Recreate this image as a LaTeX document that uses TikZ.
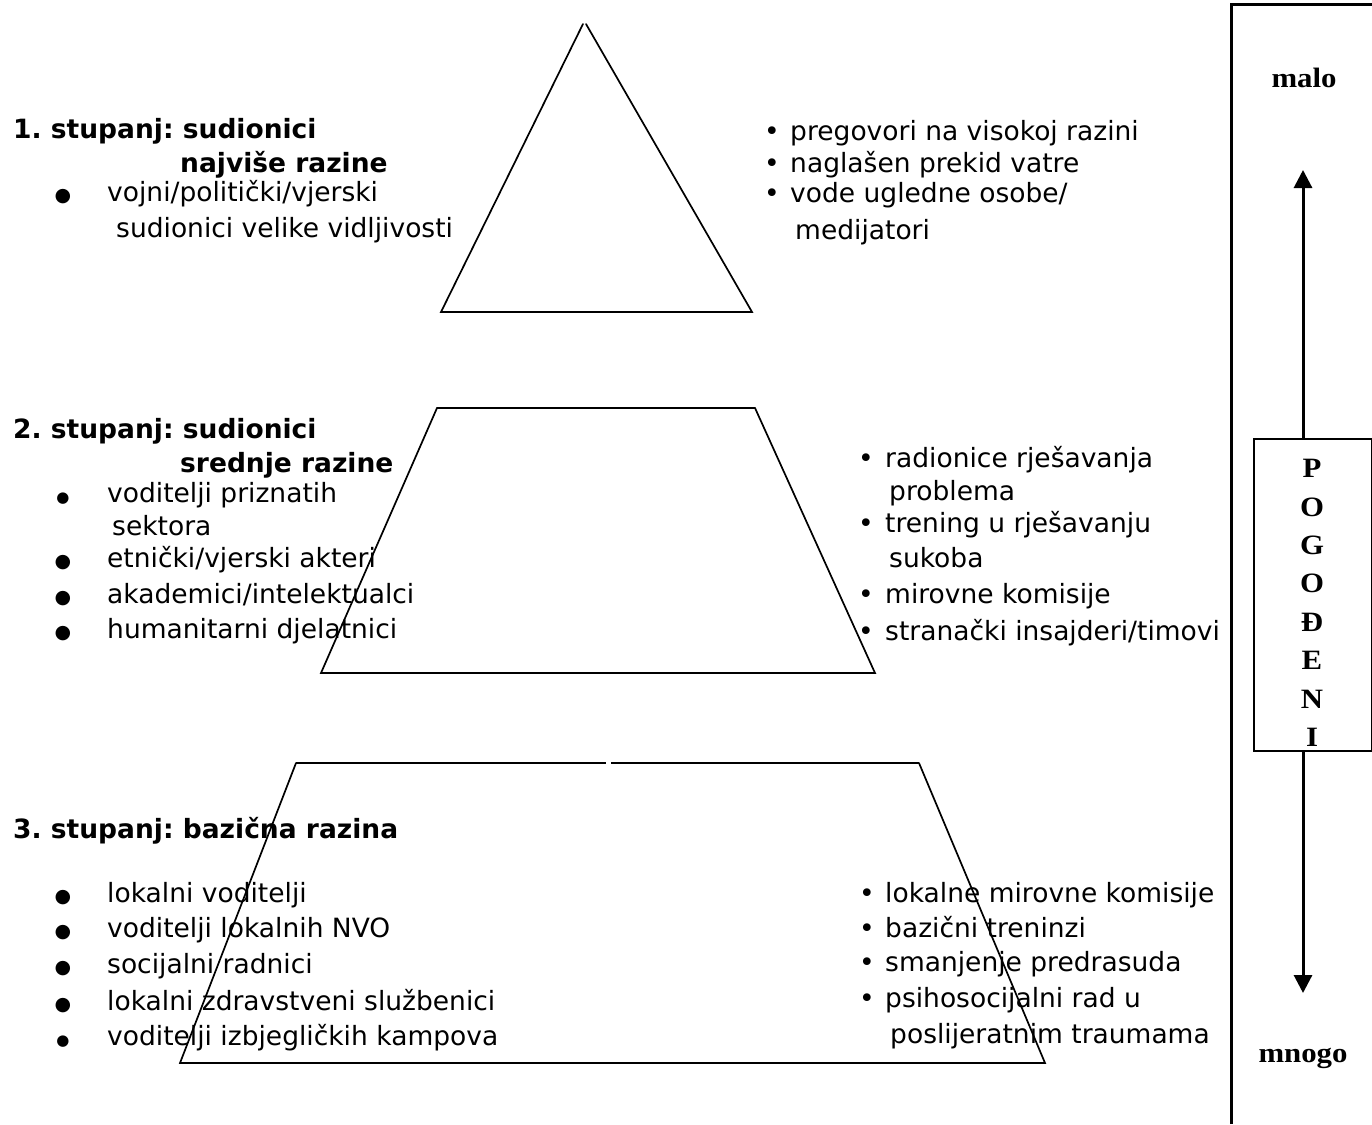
\documentclass[tikz,border=0pt]{standalone}
\usepackage{fontspec}
\setmainfont{DejaVu Sans}
\newfontfamily\serifb[FakeStretch=1.1]{Liberation Serif}
\usetikzlibrary{arrows.meta}
\tikzset{
  shapeline/.style={line width=1.7pt, line cap=round},
  txt/.style={anchor=base west, inner sep=0pt, font=\fontsize{26.5}{30}\selectfont},
  hd/.style={anchor=base west, inner sep=0pt, font=\fontsize{26.5}{30}\selectfont\bfseries},
  bigbul/.style={anchor=base, inner sep=0pt, font=\fontsize{19}{22}\selectfont},
  lowbul/.style={anchor=base, inner sep=0pt, font=\fontsize{15}{18}\selectfont},
  smbul/.style={anchor=base, inner sep=0pt, font=\fontsize{26.5}{30}\selectfont},
  sidelbl/.style={inner sep=0pt, font=\fontsize{28}{30}\selectfont\serifb\bfseries},
  frameline/.style={line width=3pt},
  arr/.style={line width=3pt, -{Triangle[width=18pt,length=18pt]}},
}
\begin{document}
\frenchspacing
\begin{tikzpicture}[x=1pt,y=-1pt]
\useasboundingbox (0,0) rectangle (1372,1124);
\fill[white] (0,0) rectangle (1372,1124);

% ---- pyramid shapes
\coordinate (t1a) at (583,24);
\coordinate (t1b) at (586,24);
\coordinate (t1l) at (441,312);
\coordinate (t1r) at (752,312);
\draw[shapeline] (t1a) -- (t1l) -- (t1r) -- (t1b);

\coordinate (t2tl) at (437,408);
\coordinate (t2tr) at (755,408);
\coordinate (t2bl) at (321,673);
\coordinate (t2br) at (875,673);
\draw[shapeline] (t2tl) -- (t2tr);
\draw[shapeline] (t2tl) -- (t2bl) -- (t2br) -- (t2tr);

\coordinate (t3tl) at (296,763);
\coordinate (t3gl) at (606,763);
\coordinate (t3gr) at (611,763);
\coordinate (t3tr) at (919,763);
\coordinate (t3bl) at (180,1063);
\coordinate (t3br) at (1045,1063);
\draw[shapeline, line cap=butt] (t3tl) -- (t3gl);
\draw[shapeline, line cap=butt] (t3gr) -- (t3tr);
\draw[shapeline] (t3tl) -- (t3bl) -- (t3br) -- (t3tr);

% ---- tier 1 left
\node[hd] (h1a) at (13,138) {1. stupanj: sudionici};
\node[hd] (h1b) at (180,172) {najviše razine};
\node[bigbul] (b1a) at (63,201) {●};
\node[txt] (l1a) at (107,201) {vojni/politički/vjerski};
\node[txt] (l1b) at (116,237) {sudionici velike vidljivosti};
% ---- tier 1 right
\node[smbul] (rb1a) at (772,140) {•};
\node[txt] (r1a) at (790,140) {pregovori na visokoj razini};
\node[smbul] (rb1b) at (772,172) {•};
\node[txt] (r1b) at (790,172) {naglašen prekid vatre};
\node[smbul] (rb1c) at (772,202) {•};
\node[txt] (r1c) at (790,202) {vode ugledne osobe/};
\node[txt] (r1d) at (795,239) {medijatori};

% ---- tier 2 left
\node[hd] (h2a) at (13,438) {2. stupanj: sudionici};
\node[hd] (h2b) at (180,472) {srednje razine};
\node[lowbul] (b2a) at (63,502) {●};
\node[txt] (l2a) at (107,502) {voditelji priznatih};
\node[txt] (l2b) at (112,535) {sektora};
\node[bigbul] (b2c) at (63,567) {●};
\node[txt] (l2c) at (107,567) {etnički/vjerski akteri};
\node[bigbul] (b2d) at (63,603) {●};
\node[txt] (l2d) at (107,603) {akademici/intelektualci};
\node[bigbul] (b2e) at (63,638) {●};
\node[txt] (l2e) at (107,638) {humanitarni djelatnici};
% ---- tier 2 right
\node[smbul] (rb2a) at (866,467) {•};
\node[txt] (r2a) at (885,467) {radionice rješavanja};
\node[txt] (r2b) at (889,500) {problema};
\node[smbul] (rb2c) at (866,532) {•};
\node[txt] (r2c) at (885,532) {trening u rješavanju};
\node[txt] (r2d) at (889,567) {sukoba};
\node[smbul] (rb2e) at (866,603) {•};
\node[txt] (r2e) at (885,603) {mirovne komisije};
\node[smbul] (rb2f) at (866,640) {•};
\node[txt] (r2f) at (885,640) {stranački insajderi/timovi};

% ---- tier 3 left
\node[hd] (h3a) at (13,838) {3. stupanj: bazična razina};
\node[bigbul] (b3a) at (63,902) {●};
\node[txt] (l3a) at (107,902) {lokalni voditelji};
\node[bigbul] (b3b) at (63,937) {●};
\node[txt] (l3b) at (107,937) {voditelji lokalnih NVO};
\node[bigbul] (b3c) at (63,973) {●};
\node[txt] (l3c) at (107,973) {socijalni radnici};
\node[bigbul] (b3d) at (63,1010) {●};
\node[txt] (l3d) at (107,1010) {lokalni zdravstveni službenici};
\node[lowbul] (b3e) at (63,1045) {●};
\node[txt] (l3e) at (107,1045) {voditelji izbjegličkih kampova};
% ---- tier 3 right
\node[smbul] (rb3a) at (867,902) {•};
\node[txt] (r3a) at (885,902) {lokalne mirovne komisije};
\node[smbul] (rb3b) at (867,937) {•};
\node[txt] (r3b) at (885,937) {bazični treninzi};
\node[smbul] (rb3c) at (867,971) {•};
\node[txt] (r3c) at (885,971) {smanjenje predrasuda};
\node[smbul] (rb3d) at (867,1007) {•};
\node[txt] (r3d) at (885,1007) {psihosocijalni rad u};
\node[txt] (r3e) at (890,1043) {poslijeratnim traumama};

% ---- right frame
\coordinate (fbot) at (1231,1124);
\coordinate (ftop) at (1231,5);
\coordinate (fright) at (1372,5);
\draw[frameline] (fbot) -- (ftop) -- (fright);

\node[sidelbl] (malo) at (1304,78) {malo};
\node[sidelbl] (mnogo) at (1303,1058) {mnogo};

\node[draw, line width=1.8pt, minimum width=118pt, minimum height=312pt, inner sep=0pt,
      anchor=north west] (pog) at (1253,438) {};
\node[inner sep=0pt, align=center, font=\fontsize{28}{38.4}\selectfont\serifb\bfseries]
      (pogtxt) at (1312,603) {P\\O\\G\\O\\Đ\\E\\N\\I};

\coordinate (uptip) at (1303,170);
\coordinate (downtip) at (1303,993);
\draw[arr] (pog.north -| uptip) -- (uptip);
\draw[arr] (pog.south -| downtip) -- (downtip);
\end{tikzpicture}
\end{document}
